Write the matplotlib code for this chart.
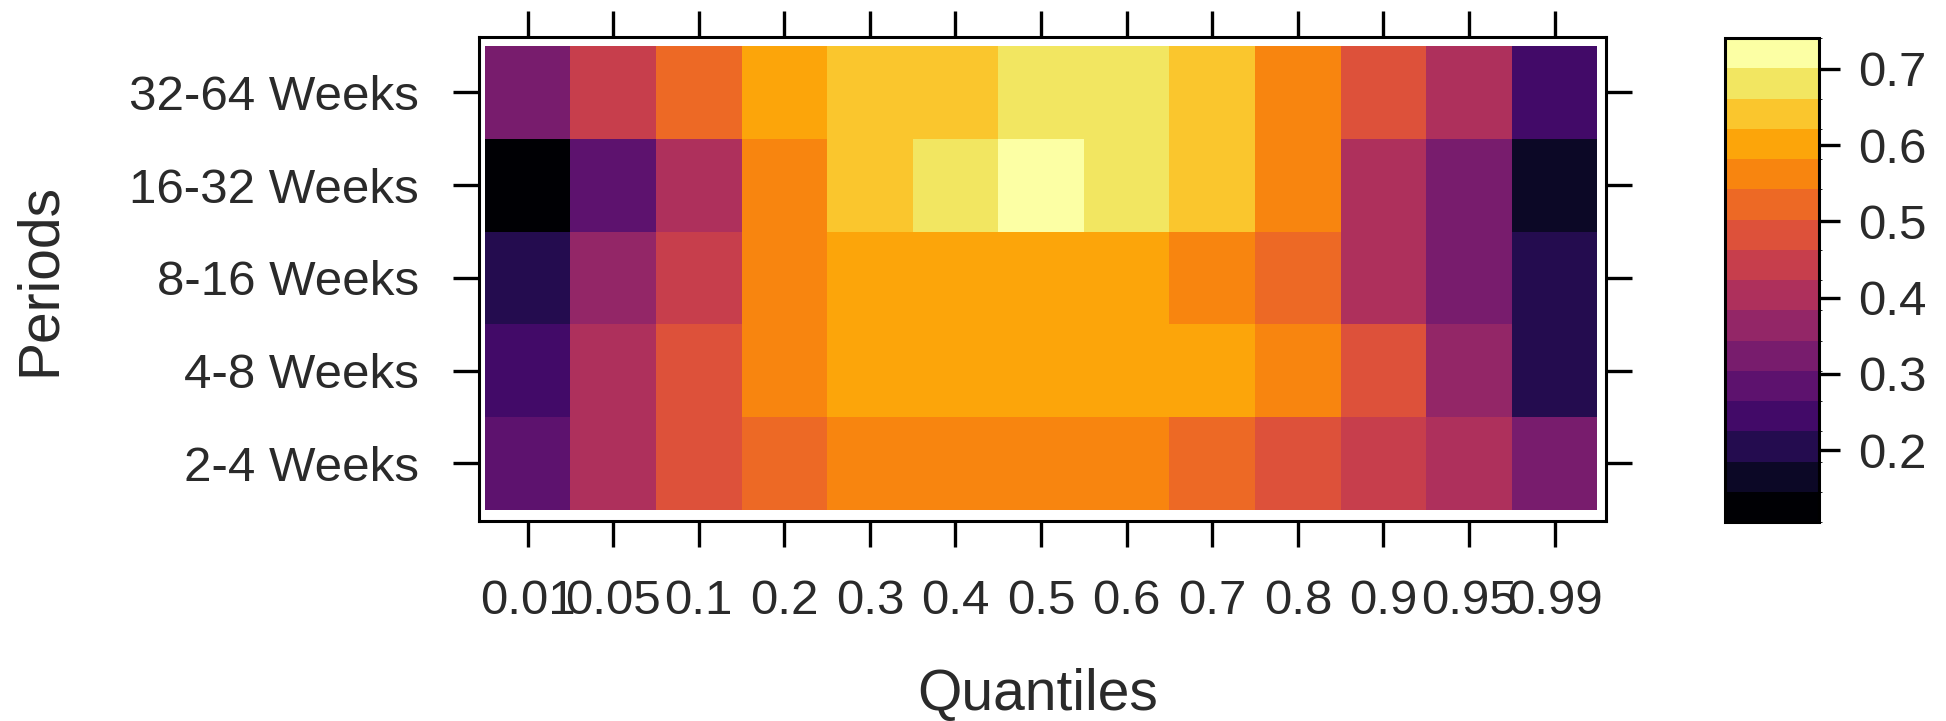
import numpy as np
import matplotlib
matplotlib.use("Agg")
import matplotlib.pyplot as plt
from matplotlib.colors import ListedColormap, BoundaryNorm
from matplotlib.cm import ScalarMappable

plt.rcParams['font.family'] = ['Liberation Sans', 'DejaVu Sans']

quantiles = ["0.01", "0.05", "0.1", "0.2", "0.3", "0.4", "0.5", "0.6", "0.7", "0.8", "0.9", "0.95", "0.99"]
periods = ["2-4 Weeks", "4-8 Weeks", "8-16 Weeks", "16-32 Weeks", "32-64 Weeks"]

w2_4   = [0.284, 0.403, 0.483, 0.522, 0.562, 0.562, 0.562, 0.562, 0.522, 0.483, 0.443, 0.403, 0.324]
w4_8   = [0.245, 0.403, 0.483, 0.562, 0.602, 0.602, 0.602, 0.602, 0.602, 0.562, 0.483, 0.364, 0.205]
w8_16  = [0.205, 0.364, 0.443, 0.562, 0.602, 0.602, 0.602, 0.602, 0.562, 0.522, 0.403, 0.324, 0.205]
w16_32 = [0.106, 0.284, 0.403, 0.562, 0.641, 0.681, 0.740, 0.681, 0.641, 0.562, 0.403, 0.324, 0.165]
w32_64 = [0.324, 0.443, 0.522, 0.602, 0.641, 0.641, 0.681, 0.681, 0.641, 0.562, 0.483, 0.403, 0.245]

cbar_ticks = [0.2, 0.3, 0.4, 0.5, 0.6, 0.7]

Z = np.array([w2_4, w4_8, w8_16, w16_32, w32_64])
ncuts = 16
breaks = np.linspace(Z.min(), Z.max(), ncuts + 1)
cmap = ListedColormap(plt.get_cmap('inferno')(np.linspace(0, 1, ncuts)))
norm = BoundaryNorm(breaks, ncuts)

fig = plt.figure(figsize=(19.46, 7.21), dpi=100)
ax = fig.add_axes([0.2460, 0.2774, 0.5793, 0.6717])
ax.pcolormesh(np.arange(len(quantiles) + 1) - 0.5, np.arange(len(periods) + 1) - 0.5, Z,
              cmap=cmap, norm=norm, shading='flat')
ax.set_xlim(-0.57, len(quantiles) - 0.4)
ax.set_ylim(-0.62, len(periods) - 0.4)
ax.set_xticks(np.arange(len(quantiles)))
ax.set_xticklabels(quantiles)
ax.set_yticks(np.arange(len(periods)))
ax.set_yticklabels(periods)
ax.tick_params(axis='both', which='major', direction='out', length=19, width=2.4,
               labelsize=35.5, colors='black')
ax.tick_params(axis='x', top=True, labeltop=False, pad=23)
ax.tick_params(axis='y', right=True, labelright=False, pad=24)
for s in ax.spines.values():
    s.set_linewidth(2.2)
for lab in ax.get_xticklabels() + ax.get_yticklabels():
    lab.set_color('#2a2a2a')

fig.text(0.533, 1 - 695 / 721, "Quantiles", ha='center', va='center', fontsize=41, color='#2a2a2a')
fig.text(40 / 1946, 1 - 279 / 721, "Periods", ha='center', va='center', rotation=90, fontsize=41, color='#2a2a2a')

cax = fig.add_axes([0.8864, 0.276, 0.0483, 0.671])
sm = ScalarMappable(norm=norm, cmap=cmap)
cb = fig.colorbar(sm, cax=cax, ticks=cbar_ticks, spacing='proportional')
cb.outline.set_linewidth(2.2)
cb.set_ticklabels([f"{t:.1f}" for t in cbar_ticks])
cax.tick_params(direction='out', length=15, width=2.4, labelsize=35.5, pad=13, colors='black')
for lab in cax.get_yticklabels():
    lab.set_color('#2a2a2a')

fig.savefig("out.png", dpi=100)
